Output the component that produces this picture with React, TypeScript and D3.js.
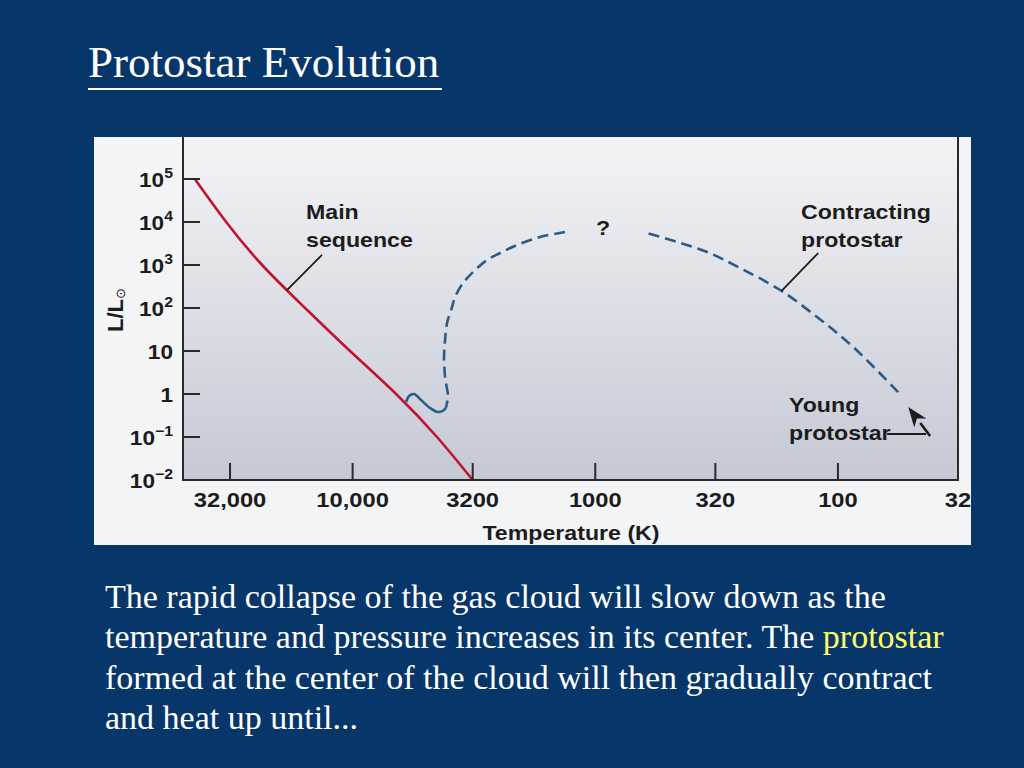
import * as React from 'react';
import * as d3 from 'd3';

// axis ticks
const yTickValues = [1e5, 1e4, 1e3, 1e2, 10, 1, 0.1, 0.01];
const yTickBase = ['10', '10', '10', '10', '10', '1', '10', '10'];
const yTickExp = ['5', '4', '3', '2', '', '', '\u22121', '\u22122'];
const xTickValues = [32000, 10000, 3200, 1000, 320, 100, 32];
const xTickLabels = ['32,000', '10,000', '3200', '1000', '320', '100', '32'];

// main sequence (T in K, L in solar units)
const mainSeqT = [44700, 33200, 23600, 15700, 10250, 6620, 4490, 3200];
const mainSeqL = [1e5, 1e4, 1e3, 1e2, 10, 1, 0.1, 0.01];

// contracting protostar track, right part (young protostar -> top)
const contractT = [56.5, 86.5, 122, 173, 253, 346, 460, 611];
const contractL = [1.11, 12.4, 61.8, 262, 851, 2005, 3428, 5550];

// left part of the track, coming down to the main sequence
const collapseT = [1332, 1688, 2100, 2468, 2792, 3189, 3506, 3783, 3893, 4081, 4159, 4200, 4159, 4043, 4081];
const collapseL = [5850, 4480, 2920, 1900, 1307, 687, 381, 180, 105, 44.8, 18.0, 7.25, 2.49, 0.85, 0.652];

// last solid wiggle onto the main sequence
const settleT = [4081, 4159, 4445, 4797, 5224, 5585, 5853, 6025];
const settleL = [0.652, 0.448, 0.381, 0.472, 0.724, 1.0, 0.898, 0.652];

const bodyLines = [
  'The rapid collapse of the gas cloud will slow down as the',
  'temperature and pressure increases in its center. The ',
  'formed at the center of the cloud will then gradually contract',
  'and heat up until...',
];

const BG = '#07366a';
const RED = '#c2132f';
const BLUE = '#2c5b88';
const INK = '#1c1c1c';
const SANS = '"Liberation Sans", Arial, sans-serif';
const SERIF = '"Liberation Serif", "Times New Roman", serif';
const SX = 1.13; // the figure's lettering is a little wide

const plot = { left: 183, right: 958, top: 137, bottom: 480 };
const panel = { x: 94, y: 137, w: 877, h: 408 };

const x = d3.scaleLog().domain([50000, 32]).range([plot.left, plot.right]);
const y = d3.scaleLog().domain([0.01, 1e6]).range([plot.bottom, plot.top - 1]);

type Pt = [number, number];
const zip = (t: number[], l: number[]): Pt[] => t.map((v, i) => [v, l[i]]);

const curve = d3.line<Pt>()
  .x(d => x(d[0]))
  .y(d => y(d[1]))
  .curve(d3.curveCatmullRom.alpha(0.5));

const smooth = d3.line<Pt>()
  .x(d => x(d[0]))
  .y(d => y(d[1]))
  .curve(d3.curveNatural);

function Label(props: { x: number; y: number; anchor?: string; size?: number; children: React.ReactNode }) {
  return (
    <text
      transform={`translate(${props.x},${props.y}) scale(${SX},1)`}
      textAnchor={props.anchor || 'start'}
      fontFamily={SANS}
      fontWeight="bold"
      fontSize={props.size || 20.5}
      fill={INK}
    >
      {props.children}
    </text>
  );
}

export default function App() {
  const tip: Pt = [51.3, 0.5];
  const tail: Pt = [41.7, 0.105];
  const tx = x(tip[0]), ty = y(tip[1]);
  const ang = Math.atan2(ty - y(tail[1]), tx - x(tail[0]));
  const hl = 20, hw = 7.5;
  const bx = tx - hl * Math.cos(ang), by = ty - hl * Math.sin(ang);
  const head = [
    [tx, ty],
    [bx + hw * Math.sin(ang), by - hw * Math.cos(ang)],
    [tx - hl * 0.72 * Math.cos(ang), ty - hl * 0.72 * Math.sin(ang)],
    [bx - hw * Math.sin(ang), by + hw * Math.cos(ang)],
  ].map(p => p.join(',')).join(' ');

  return (
    <svg width={1024} height={768} style={{ position: 'absolute', left: 0, top: 0 }}>
      <defs>
        <linearGradient id="plotbg" x1="0" y1="0" x2="0" y2="1">
          <stop offset="0" stopColor="#f4f4f6" />
          <stop offset="1" stopColor="#c5c9d5" />
        </linearGradient>
        <clipPath id="panelclip">
          <rect x={panel.x} y={panel.y} width={panel.w} height={panel.h} />
        </clipPath>
      </defs>
      <rect width={1024} height={768} fill={BG} />

      {/* title */}
      <text x={88} y={77} fill="#fff" fontFamily={SERIF} fontSize={45}>Protostar Evolution</text>
      <line x1={88} x2={442} y1={89} y2={89} stroke="#fff" strokeWidth={2} />

      {/* figure panel */}
      <g clipPath="url(#panelclip)">
        <rect x={panel.x} y={panel.y} width={panel.w} height={panel.h} fill="#f3f4f6" />
        <rect x={plot.left} y={plot.top} width={plot.right - plot.left} height={plot.bottom - plot.top} fill="url(#plotbg)" />

        {/* tracks */}
        <path d={smooth(zip(mainSeqT, mainSeqL))!} fill="none" stroke={RED} strokeWidth={2.6} />
        <path d={curve(zip(collapseT, collapseL))!} fill="none" stroke={BLUE} strokeWidth={2.6} strokeDasharray="11 6" />
        <path d={curve(zip(contractT, contractL))!} fill="none" stroke={BLUE} strokeWidth={2.6} strokeDasharray="11 6" />
        <path d={curve(zip(settleT, settleL))!} fill="none" stroke={BLUE} strokeWidth={2.6} />

        {/* axes frame */}
        <line x1={plot.left} x2={plot.left} y1={plot.top} y2={plot.bottom + 1} stroke="#2a2a2a" strokeWidth={2} />
        <line x1={plot.right} x2={plot.right} y1={plot.top} y2={plot.bottom + 1} stroke="#2a2a2a" strokeWidth={2} />
        <line x1={plot.left} x2={plot.right + 1} y1={plot.bottom} y2={plot.bottom} stroke="#2a2a2a" strokeWidth={2} />

        {yTickValues.map((v, i) => (
          <g key={'y' + i}>
            {i < yTickValues.length - 1 && (
              <line x1={plot.left} x2={plot.left + 17} y1={y(v)} y2={y(v)} stroke="#2a2a2a" strokeWidth={2} />
            )}
            <Label x={173} y={y(v) + 8} anchor="end" size={20}>
              {yTickBase[i]}
              {yTickExp[i] && <tspan fontSize={14} dy={-9}>{yTickExp[i]}</tspan>}
            </Label>
          </g>
        ))}

        {xTickValues.map((v, i) => (
          <g key={'x' + i}>
            {i < xTickValues.length - 1 && (
              <line x1={x(v)} x2={x(v)} y1={plot.bottom} y2={plot.bottom - 17} stroke="#2a2a2a" strokeWidth={2} />
            )}
            <Label x={x(v)} y={507} anchor="middle" size={21}>{xTickLabels[i]}</Label>
          </g>
        ))}

        <Label x={571} y={540} anchor="middle">Temperature (K)</Label>
        <text transform="translate(123,310) rotate(-90)" textAnchor="middle" fontFamily={SANS} fontWeight="bold" fontSize={22} fill={INK}>
          L/L<tspan fontSize={13} dy={2} fontWeight="normal">{'\u2299'}</tspan>
        </text>

        {/* annotations */}
        <Label x={306} y={219}>Main</Label>
        <Label x={306} y={247}>sequence</Label>
        <line x1={x(13370)} y1={y(1710)} x2={x(18640)} y2={y(262)} stroke={INK} strokeWidth={1.8} />

        <Label x={603} y={235} anchor="middle">?</Label>

        <Label x={801} y={219}>Contracting</Label>
        <Label x={801} y={247}>protostar</Label>
        <line x1={x(120.6)} y1={y(1900)} x2={x(171)} y2={y(248)} stroke={INK} strokeWidth={1.8} />

        <Label x={789} y={412}>Young</Label>
        <Label x={789} y={440}>protostar</Label>
        <line x1={x(62.7)} y1={y(0.1175)} x2={x(43.3)} y2={y(0.1175)} stroke={INK} strokeWidth={1.8} />
        <line x1={x(tail[0])} y1={y(tail[1])} x2={bx} y2={by} stroke={INK} strokeWidth={2.6} />
        <polygon points={head} fill={INK} />
      </g>

      {/* caption */}
      <text fontFamily={SERIF} fontSize={34} fill="#fff">
        <tspan x={105} y={608}>{bodyLines[0]}</tspan>
        <tspan x={105} y={648}>{bodyLines[1]}<tspan fill="#ffff66">protostar</tspan></tspan>
        <tspan x={105} y={689}>{bodyLines[2]}</tspan>
        <tspan x={105} y={729}>{bodyLines[3]}</tspan>
      </text>
    </svg>
  );
}
